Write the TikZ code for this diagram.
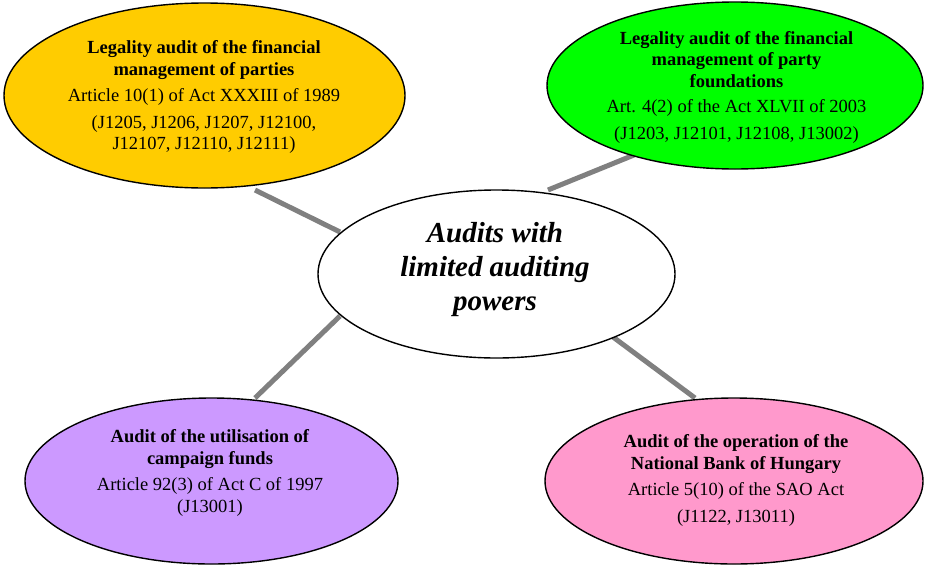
\documentclass[tikz,border=0pt]{standalone}
\usepackage{fontspec}
\setmainfont{Liberation Serif}
\usetikzlibrary{shapes.geometric}

\definecolor{partyorange}{HTML}{FFCC00}
\definecolor{foundgreen}{HTML}{00FF00}
\definecolor{campviolet}{HTML}{CC99FF}
\definecolor{bankpink}{HTML}{FF99CC}
\definecolor{linkgray}{HTML}{808080}

\tikzset{
  bubble/.style={ellipse, draw=black, line width=1.4pt, inner sep=0pt},
  bubbletext/.style={align=center, inner sep=0pt,
    font=\fontsize{18.5}{21.5}\selectfont},
  hubtext/.style={align=center, inner sep=0pt,
    font=\fontsize{29}{34}\selectfont\bfseries\itshape},
  link/.style={draw=linkgray, line width=5pt},
}

\begin{document}
\begin{tikzpicture}[x=1pt, y=-1pt]
  \useasboundingbox (0,0) rectangle (925,565);

  % connector end points
  \coordinate (l1a) at (255,190);
  \coordinate (l1b) at (340,232);
  \coordinate (l2a) at (548,190);
  \coordinate (l2b) at (634,155);
  \coordinate (l3a) at (340,316);
  \coordinate (l3b) at (255,398);
  \coordinate (l4a) at (613,337);
  \coordinate (l4b) at (695,398);

  \draw[link] (l1a) -- (l1b);
  \draw[link] (l2a) -- (l2b);
  \draw[link] (l3a) -- (l3b);
  \draw[link] (l4a) -- (l4b);

  % ellipses
  \node[bubble, fill=partyorange, minimum width=401pt, minimum height=185pt] (parties) at (204.5,95.5) {};
  \node[bubble, fill=foundgreen, minimum width=376pt, minimum height=167pt] (found) at (735,85.5) {};
  \node[bubble, fill=white, minimum width=357pt, minimum height=168pt] (hub) at (496.5,274) {};
  \node[bubble, fill=campviolet, minimum width=373pt, minimum height=166pt] (camp) at (211.5,481) {};
  \node[bubble, fill=bankpink, minimum width=378pt, minimum height=166pt] (bank) at (734,481) {};

  % texts
  \node[bubbletext] (partiesT) at (204,97) {\textbf{Legality audit of the financial}\\
    \textbf{management of parties}\\[5pt]
    Article 10(1) of Act XXXIII of 1989\\[5pt]
    (J1205, J1206, J1207, J12100,\\
    J12107, J12110, J12111)};

  \node[bubbletext] (foundT) at (736.5,87) {\textbf{Legality audit of the financial}\\
    \textbf{management of party}\\
    \textbf{foundations}\\[4pt]
    Art. 4(2) of the Act XLVII of 2003\\[5pt]
    (J1203, J12101, J12108, J13002)};

  \node[hubtext] (hubT) at (495,270) {Audits with\\ limited auditing\\ powers};

  \node[bubbletext] (campT) at (210,473) {\textbf{Audit of the utilisation of}\\
    \textbf{campaign funds}\\[5pt]
    Article 92(3) of Act C of 1997\\
    (J13001)};

  \node[bubbletext] (bankT) at (736,480.5) {\textbf{Audit of the operation of the}\\
    \textbf{National Bank of Hungary}\\[5pt]
    Article 5(10) of the SAO Act\\[5pt]
    (J1122, J13011)};
\end{tikzpicture}
\end{document}
